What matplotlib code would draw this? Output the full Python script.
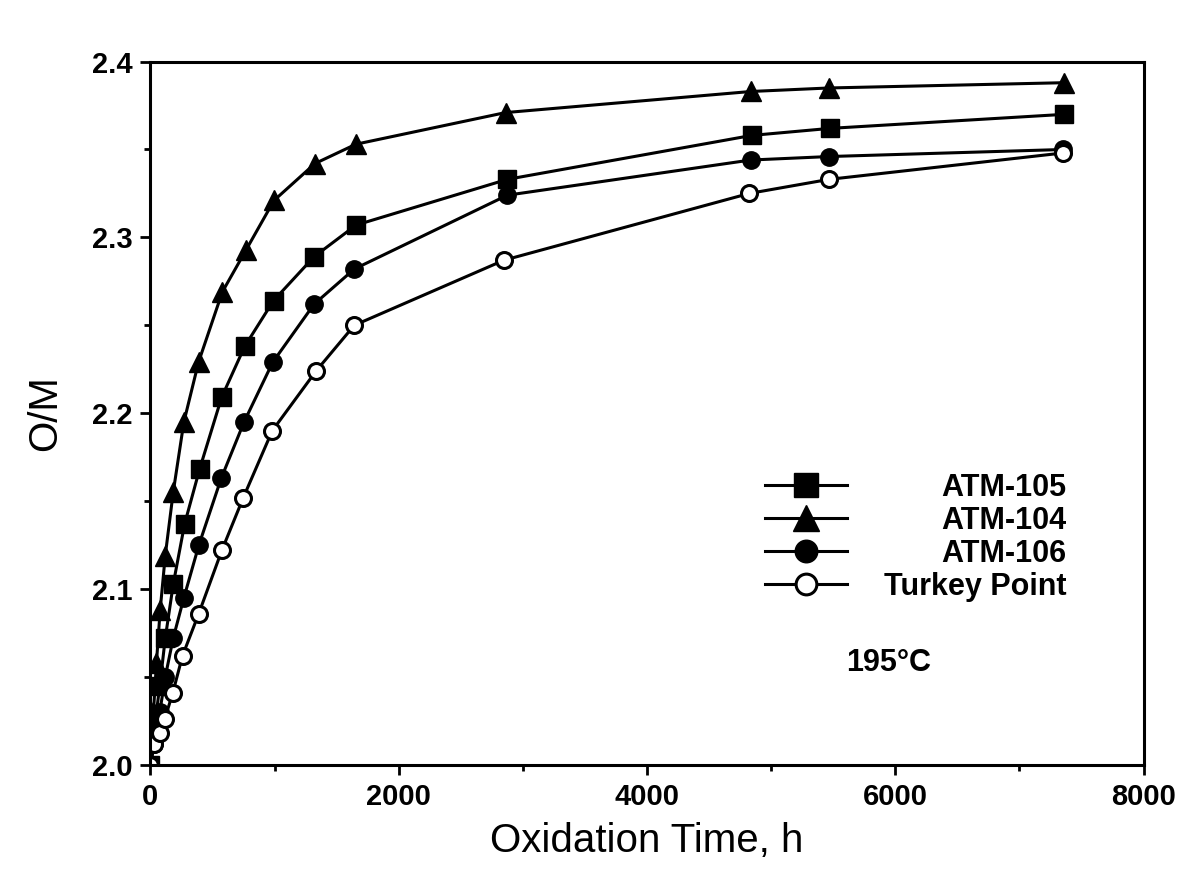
import matplotlib
matplotlib.use('Agg')
import matplotlib.pyplot as plt
from matplotlib.ticker import MultipleLocator

plt.rcParams['font.family'] = ['Liberation Sans', 'DejaVu Sans']

# ---- data (oxidation time in h, O/M ratio) ----
t_105 = [0, 30, 75, 119, 184, 275, 395, 573, 759, 991, 1318, 1656, 2874, 4843, 5472, 7362]
om_105 = [2.000, 2.020, 2.045, 2.072, 2.103, 2.137, 2.168, 2.209, 2.238, 2.264, 2.289, 2.307, 2.333, 2.358, 2.362, 2.370]

t_104 = [0, 24, 48, 78, 119, 183, 269, 387, 579, 771, 995, 1325, 1655, 2860, 4837, 5467, 7362]
om_104 = [2.000, 2.030, 2.058, 2.088, 2.119, 2.155, 2.195, 2.229, 2.269, 2.293, 2.321, 2.342, 2.353, 2.371, 2.383, 2.385, 2.388]

t_106 = [0, 30, 75, 119, 183, 269, 390, 570, 754, 985, 1318, 1642, 2875, 4834, 5470, 7350]
om_106 = [2.000, 2.012, 2.030, 2.050, 2.072, 2.095, 2.125, 2.163, 2.195, 2.229, 2.262, 2.282, 2.324, 2.344, 2.346, 2.350]

t_tp = [0, 30, 75, 115, 180, 258, 389, 575, 748, 981, 1334, 1642, 2847, 4824, 5466, 7350]
om_tp = [2.000, 2.012, 2.018, 2.026, 2.041, 2.062, 2.086, 2.122, 2.152, 2.190, 2.224, 2.250, 2.287, 2.325, 2.333, 2.348]

labels = ['ATM-105', 'ATM-104', 'ATM-106', 'Turkey Point']
x_ticks = [0, 2000, 4000, 6000, 8000]
y_ticks = [2.0, 2.1, 2.2, 2.3, 2.4]
annotation = '195\u00b0C'

plt.rcParams['axes.linewidth'] = 2.2

fig = plt.figure(figsize=(11.85, 8.8), dpi=100)
ax = fig.add_axes([0.127, 0.131, 0.838, 0.799])

lw = 2.2
ax.plot(t_105, om_105, color='black', lw=lw, marker='s', ms=13, mfc='black', mec='black', label=labels[0])
ax.plot(t_104, om_104, color='black', lw=lw, marker='^', ms=14, mfc='black', mec='black', label=labels[1])
ax.plot(t_106, om_106, color='black', lw=lw, marker='o', ms=12.5, mfc='black', mec='black', label=labels[2])
ax.plot(t_tp, om_tp, color='black', lw=lw, marker='o', ms=11.5, mfc='white', mec='black', mew=2.2, label=labels[3])

ax.set_xlim(0, 8000)
ax.set_ylim(2.0, 2.4)
ax.set_xticks(x_ticks)
ax.set_yticks(y_ticks)
ax.set_xticklabels([str(v) for v in x_ticks])
ax.set_yticklabels(['%.1f' % v for v in y_ticks])
ax.xaxis.set_minor_locator(MultipleLocator(1000))
ax.yaxis.set_minor_locator(MultipleLocator(0.05))
ax.tick_params(which='major', direction='out', length=7, width=2, pad=6,
               labelsize=21)
ax.tick_params(which='minor', direction='out', length=4, width=2)
ax.tick_params(top=False, right=False, which='both')
for lab in ax.get_xticklabels() + ax.get_yticklabels():
    lab.set_fontweight('bold')

ax.set_xlabel('Oxidation Time, h', fontsize=29, labelpad=8)
ax.set_ylabel('O/M', fontsize=29, labelpad=20)

leg = ax.legend(loc='upper left', bbox_to_anchor=(4950, 2.166), bbox_transform=ax.transData,
                frameon=False, borderpad=0, borderaxespad=0, handlelength=2.7,
                handletextpad=1.2, labelspacing=0.1, markerscale=1.3,
                prop={'weight': 'bold', 'size': 22})

# right-align legend labels (as in the original figure)
fig.canvas.draw()
renderer = fig.canvas.get_renderer()
texts = leg.get_texts()
widths = [tx.get_window_extent(renderer).width for tx in texts]
maxw = max(widths)
col = leg._legend_handle_box.get_children()[0]
for item, w in zip(col.get_children(), widths):
    item.sep = item.sep + (maxw - w) * 72.0 / fig.dpi

ax.text(5950, 2.058, annotation, fontsize=22, fontweight='bold', ha='center', va='center')

fig.savefig('out.png', dpi=100)
